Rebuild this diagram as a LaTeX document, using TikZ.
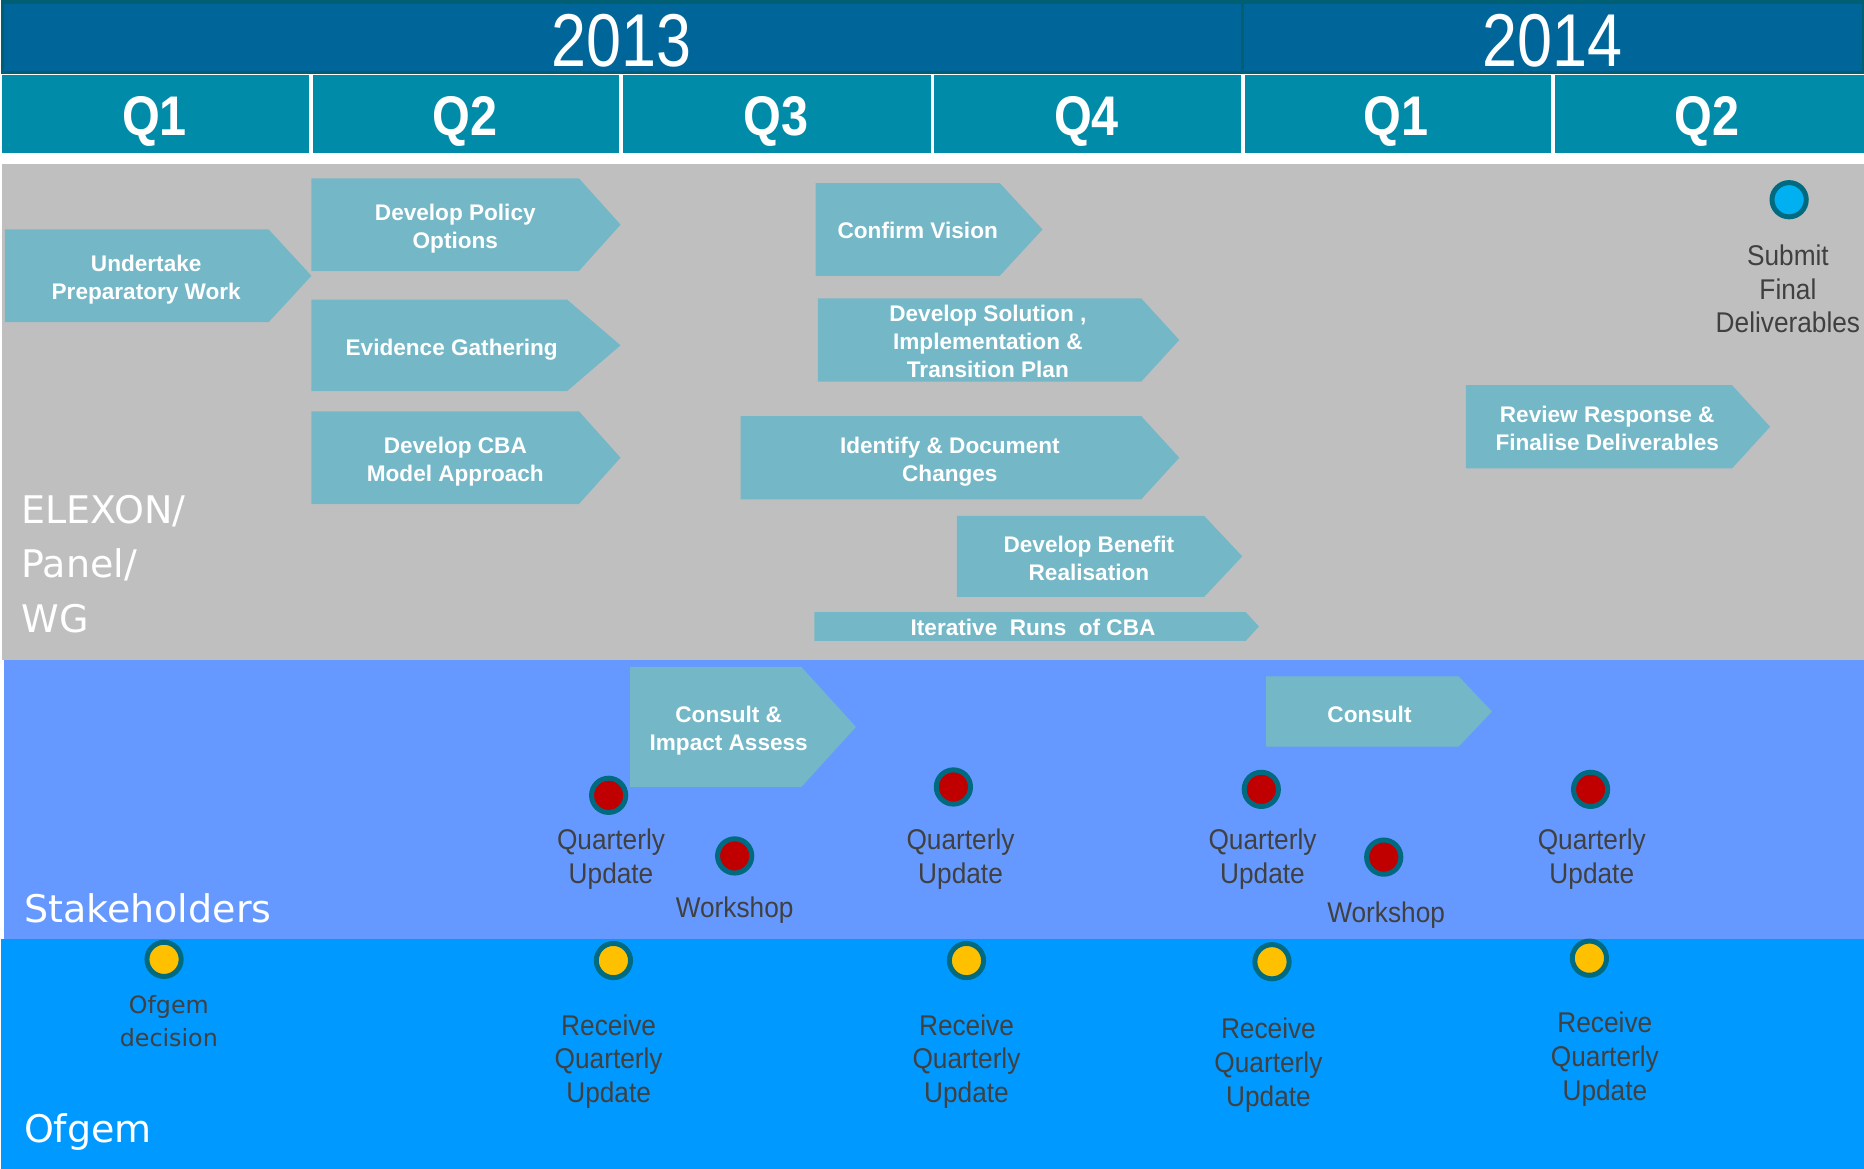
\documentclass[tikz,border=0pt]{standalone}
\usepackage{fontspec}
\setmainfont{Liberation Sans}
\newfontfamily\yearfont{Liberation Sans}[FakeStretch=0.84]
\newfontfamily\qfont{Liberation Sans}[FakeStretch=0.87]
\newfontfamily\msfont{Liberation Sans}[FakeStretch=0.92]
\newfontfamily\lanefont{DejaVu Sans}
\usetikzlibrary{positioning}

\definecolor{yearblue}{HTML}{006699}
\definecolor{yearline}{HTML}{005F73}
\definecolor{quarterteal}{HTML}{008CA8}
\definecolor{lanegrey}{HTML}{BFBFBF}
\definecolor{lanestake}{HTML}{6699FF}
\definecolor{laneofgem}{HTML}{0099FF}
\definecolor{taskfill}{HTML}{74B8C8}
\definecolor{dotrim}{HTML}{006B80}
\definecolor{dotred}{HTML}{C00000}
\definecolor{dotyellow}{HTML}{FFC000}
\definecolor{dotblue}{HTML}{00B0F0}
\definecolor{mstext}{HTML}{404040}

\tikzset{
  yearbox/.style={fill=yearblue, draw=yearline, line width=3pt},
  yeartext/.style={text=white, inner sep=0pt, font=\yearfont\fontsize{63}{63}\selectfont},
  qtext/.style={text=white, inner sep=0pt, font=\qfont\bfseries\fontsize{47}{47}\selectfont},
  task/.style={fill=taskfill},
  tasktext/.style={text=white, align=center, inner sep=0pt, font=\bfseries\fontsize{19}{23.5}\selectfont},
  dot/.style={circle, draw=dotrim, line width=4.2pt, minimum size=28.8pt, inner sep=0pt},
  mslabel/.style={text=mstext, align=center, inner sep=0pt, font=\msfont\fontsize{24}{28.5}\selectfont},
  decisionlabel/.style={text=mstext, align=center, inner sep=0pt, font=\lanefont\fontsize{20}{28}\selectfont},
  lanelabel/.style={text=white, align=left, inner sep=0pt, font=\lanefont\fontsize{32}{46}\selectfont}
}

\begin{document}
\begin{tikzpicture}[x=1pt, y=-1pt]
\useasboundingbox (0,0) rectangle (1568,983);

\draw[yearbox] (2,1.5) rectangle (1045,61);
\draw[yearbox] (1045,1.5) rectangle (1568,61);
\node[yeartext] (y2013) at (523,34.5) {2013};
\node[yeartext] (y2014) at (1306,34.5) {2014};

\fill[quarterteal] (2,63) rectangle (260,129);
\fill[quarterteal] (263,63) rectangle (521,129);
\fill[quarterteal] (524,63) rectangle (783,129);
\fill[quarterteal] (786,63) rectangle (1044,129);
\fill[quarterteal] (1047,63) rectangle (1305,129);
\fill[quarterteal] (1308,63) rectangle (1568,129);
\node[qtext] (q1a) at (130,102) {Q1};
\node[qtext] (q2a) at (391,102) {Q2};
\node[qtext] (q3a) at (653,102) {Q3};
\node[qtext] (q4a) at (914,102) {Q4};
\node[qtext] (q1b) at (1174,102) {Q1};
\node[qtext] (q2b) at (1436,102) {Q2};

\fill[lanegrey]  (2,138) rectangle (1568,555);
\fill[lanestake] (3.5,555) rectangle (1568,790);
\fill[laneofgem] (1,790) rectangle (1568,983);

\node[lanelabel, anchor=north west] (elexon) at (18,416) {ELEXON/\\Panel/\\WG};
\node[lanelabel, anchor=base west] (stake) at (20,776) {Stakeholders};
\node[lanelabel, anchor=base west] (ofgem) at (20,961) {Ofgem};

\fill[task] (4,193) -- (226,193) -- (262,232) -- (226,271) -- (4,271) -- cycle;
\node[tasktext] (prep) at (123,235.5) {Undertake\\Preparatory Work};
\fill[task] (262,150) -- (487,150) -- (522,189) -- (487,228) -- (262,228) -- cycle;
\node[tasktext] (policy) at (383,192) {Develop Policy\\Options};
\fill[task] (262,252) -- (477,252) -- (522,290.5) -- (477,329) -- (262,329) -- cycle;
\node[tasktext] (evidence) at (380,294) {Evidence Gathering};
\fill[task] (262,346) -- (487,346) -- (522,385) -- (487,424) -- (262,424) -- cycle;
\node[tasktext] (cbamodel) at (383,388) {Develop CBA\\Model Approach};

\fill[task] (686,154) -- (841,154) -- (877,193) -- (841,232) -- (686,232) -- cycle;
\node[tasktext] (vision) at (772,194) {Confirm Vision};
\fill[task] (688,251) -- (960,251) -- (992,286) -- (960,321) -- (688,321) -- cycle;
\node[tasktext] (solution) at (831,287.5) {Develop Solution ,\\Implementation \&\\Transition Plan};
\fill[task] (623,350) -- (960,350) -- (992,385) -- (960,420) -- (623,420) -- cycle;
\node[tasktext] (changes) at (799,388) {Identify \& Document\\Changes};
\fill[task] (805,434) -- (1013,434) -- (1045,468) -- (1013,502) -- (805,502) -- cycle;
\node[tasktext] (benefit) at (916,469.5) {Develop Benefit\\Realisation};
\fill[task] (685,515) -- (1048,515) -- (1059,527) -- (1048,539) -- (685,539) -- cycle;
\node[tasktext] (cbaruns) at (869,528) {Iterative\ \ Runs\ \ of CBA};

\fill[task] (1233,324) -- (1457,324) -- (1489,359) -- (1457,394) -- (1233,394) -- cycle;
\node[tasktext] (review) at (1352,360.5) {Review Response \&\\Finalise Deliverables};
\node[dot, fill=dotblue] (submit) at (1505,168) {};
\node[mslabel] (submittxt) at (1504,243) {Submit\\Final\\Deliverables};

\fill[task] (530,561) -- (674,561) -- (720,611.5) -- (674,662) -- (530,662) -- cycle;
\node[tasktext] (consultia) at (613,614.5) {Consult \&\\Impact Assess};
\fill[task] (1065,569) -- (1227,569) -- (1255,598.5) -- (1227,628) -- (1065,628) -- cycle;
\node[tasktext] (consult) at (1152,601) {Consult};

\node[dot, fill=dotred] (qu1) at (512,669) {};
\node[mslabel] (qu1txt) at (514,723) {Quarterly\\Update};
\node[dot, fill=dotred] (ws1) at (618,720) {};
\node[mslabel] (ws1txt) at (618,766) {Workshop};
\node[dot, fill=dotred] (qu2) at (802,662) {};
\node[mslabel] (qu2txt) at (808,723) {Quarterly\\Update};
\node[dot, fill=dotred] (qu3) at (1061,664) {};
\node[mslabel] (qu3txt) at (1062,723) {Quarterly\\Update};
\node[dot, fill=dotred] (ws2) at (1164,721) {};
\node[mslabel] (ws2txt) at (1166,770) {Workshop};
\node[dot, fill=dotred] (qu4) at (1338,664) {};
\node[mslabel] (qu4txt) at (1339,723) {Quarterly\\Update};

\node[dot, fill=dotyellow] (dec) at (138,807) {};
\node[decisionlabel] (dectxt) at (142,859) {Ofgem\\decision};
\node[dot, fill=dotyellow] (rq1) at (516,808) {};
\node[mslabel] (rq1txt) at (512,893) {Receive\\Quarterly\\Update};
\node[dot, fill=dotyellow] (rq2) at (813,808) {};
\node[mslabel] (rq2txt) at (813,893) {Receive\\Quarterly\\Update};
\node[dot, fill=dotyellow] (rq3) at (1070,809) {};
\node[mslabel] (rq3txt) at (1067,896) {Receive\\Quarterly\\Update};
\node[dot, fill=dotyellow] (rq4) at (1337,806) {};
\node[mslabel] (rq4txt) at (1350,891) {Receive\\Quarterly\\Update};
\end{tikzpicture}
\end{document}
